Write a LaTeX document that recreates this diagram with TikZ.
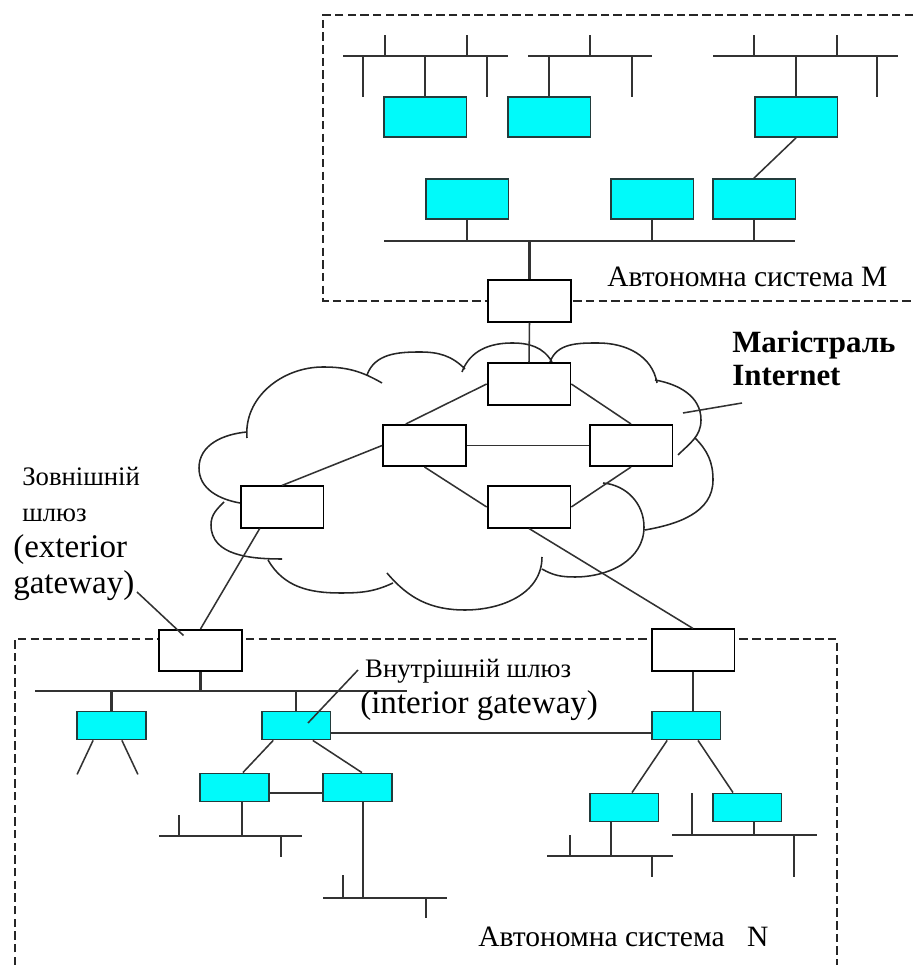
\documentclass[tikz,border=0pt]{standalone}
\usepackage{fontspec}
\setmainfont{Liberation Serif}
\definecolor{hostcyan}{RGB}{0,250,250}
\definecolor{hostedge}{RGB}{35,60,60}
\definecolor{wire}{RGB}{50,50,50}
\newcommand{\cyrsize}{\fontsize{19}{25.6}\selectfont}
\newcommand{\latsize}{\fontsize{23.5}{25.6}\selectfont}

\begin{document}
\begin{tikzpicture}[x=0.025cm, y=0.025cm,
  host/.style={draw=hostedge, fill=hostcyan, line width=1.3pt, minimum width=2.07cm, minimum height=1cm, inner sep=0pt},
  hostsm/.style={host, minimum width=1.72cm, minimum height=0.7cm},
  router/.style={draw=black, fill=white, line width=1.3pt, minimum width=2.07cm, minimum height=1.03cm, inner sep=0pt},
  bus/.style={draw=wire, line width=1.5pt},
  link/.style={draw=wire, line width=1.1pt},
  cloudedge/.style={draw=black!85, line width=1.1pt},
  asbox/.style={draw=black!85, line width=1pt, dash pattern=on 6pt off 3pt},
  lbl/.style={inner sep=0pt, font=\fontsize{21}{25}\selectfont}]

  \useasboundingbox (0,0) rectangle (913,965);

  \draw[asbox] (913,950) -- (323,950) -- (323,664) -- (913,664);
  \draw[asbox] (15,0) -- (15,326) -- (837,326) -- (837,0);

  \draw[cloudedge]
    (247,527) to[out=95,in=180] (323,598) to[out=0,in=150] (382,582)
    (367,590) to[out=70,in=180] (420,613) to[out=0,in=135] (465,596)
    (462,593) to[out=70,in=180] (512,622) to[out=0,in=120] (552,603)
    (550,603) to[out=70,in=180] (598,622) to[out=0,in=100] (657,582)
    (655,585) to[out=-10,in=90] (701,545) to[out=-90,in=45] (678,510)
    (695,527) to[out=-45,in=90] (713,485) to[out=-90,in=10] (645,435)
    (603,482) to[out=-5,in=90] (644,438) to[out=-90,in=0] (575,388) to[out=180,in=-30] (542,396)
    (542,408) to[out=-90,in=0] (465,355) to[out=180,in=-50] (387,392)
    (268,405) to[out=-60,in=180] (340,372) to[out=0,in=-155] (393,382)
    (282,406) to[out=180,in=-90] (211,440) to[out=90,in=-135] (224,463)
    (240,462) to[out=170,in=-90] (199,497) to[out=90,in=185] (247,533);

  \node[host] (h1) at (425,848) {};
  \node[host] (h2) at (549,848) {};
  \node[host] (h3) at (796,848) {};
  \node[host] (h4) at (467,766) {};
  \node[host] (h5) at (652,766) {};
  \node[host] (h6) at (754,766) {};
  \node[router] (gM) at (529.5,664) {};

  \node[router] (r1) at (529,581) {};
  \node[router] (r2) at (424.5,519.5) {};
  \node[router] (r3) at (631,519.5) {};
  \node[router] (r4) at (529,458) {};
  \node[router] (r5) at (282,458) {};

  \node[router] (gN1) at (200.5,314.5) {};
  \node[router] (gN2) at (693,315) {};
  \node[hostsm] (i0) at (111.5,239.5) {};
  \node[hostsm] (i1) at (296,239.5) {};
  \node[hostsm] (i3) at (686,239.5) {};
  \node[hostsm] (i4) at (234.5,177.5) {};
  \node[hostsm] (i5) at (357.5,177.5) {};
  \node[hostsm] (i6) at (624,157.5) {};
  \node[hostsm] (i7) at (747,157.5) {};

  \coordinate (busA) at (0,909);
  \coordinate (busM) at (0,724);
  \coordinate (busN) at (0,274);
  \coordinate (busP) at (0,129);
  \coordinate (busQ) at (0,67);
  \coordinate (busR) at (0,109);
  \coordinate (busS) at (0,130);

  \draw[bus] (343,909) -- (508,909);
  \draw[bus] (528,909) -- (652,909);
  \draw[bus] (713,909) -- (898,909);
  \foreach \x in {385,467,590,754,837}
    \draw[bus] (\x,909) -- ++(0,21);
  \foreach \x in {363,487,632,877}
    \draw[bus] (\x,909) -- ++(0,-41);
  \foreach \n in {h1,h2,h3}
    \draw[bus] (\n.north) -- (\n.north |- busA);

  \draw[bus] (384,724) -- (795,724);
  \foreach \n in {h4,h5,h6}
    \draw[bus] (\n.south) -- (\n.south |- busM);
  \draw[link] (h3.south) -- (h6.north);
  \draw[bus] (gM.north) -- (gM.north |- busM);

  \draw[link] (gM.south) -- (r1.north);
  \draw[link] (r1.west) -- (r2.131);
  \draw[link] (r1.east) -- (r3.north);
  \draw[link] (r2.east) -- (r3.west);
  \draw[link] (r2.south) -- (r4.west);
  \draw[link] (r3.south) -- (r4.east);
  \draw[link] (r2.west) -- (r5.north);
  \draw[link] (r5.224) -- (gN1.north);
  \draw[link] (r4.south) -- (gN2.north);

  \draw[bus] (35,274) -- (407,274);
  \draw[bus] (gN1.south) -- (gN1.south |- busN);
  \draw[bus] (i0.north) -- (i0.north |- busN);
  \draw[bus] (i1.north) -- (i1.north |- busN);
  \draw[link] ([xshift=-0.46cm]i0.south) -- ++(-16,-34);
  \draw[link] ([xshift=0.26cm]i0.south) -- ++(16,-34);
  \draw[link] ([yshift=-0.19cm]i1.east) -- ([yshift=-0.19cm]i3.west);
  \draw[bus] (gN2.south) -- (gN2.south |- i3.north);

  \draw[link] ([xshift=-0.57cm]i1.south) -- ([xshift=0.21cm]i4.north);
  \draw[link] ([xshift=0.42cm]i1.south) -- ([xshift=0.11cm]i5.north);
  \draw[link] ([yshift=-0.14cm]i4.east) -- ([yshift=-0.14cm]i5.west);
  \draw[link] ([xshift=-0.47cm]i3.south) -- ([xshift=0.2cm]i6.north);
  \draw[link] ([xshift=0.3cm]i3.south) -- ([xshift=-0.35cm]i7.north);

  \draw[bus] (159,129) -- (302,129);
  \draw[bus] ([xshift=0.19cm]i4.south) -- ([xshift=0.19cm]i4.south |- busP);
  \draw[bus] (179,129) -- ++(0,21);
  \draw[bus] (281,129) -- ++(0,-21);

  \draw[bus] (323,67) -- (447,67);
  \draw[bus] ([xshift=0.14cm]i5.south) -- ([xshift=0.14cm]i5.south |- busQ);
  \draw[bus] (343,67) -- ++(0,23);
  \draw[bus] (426,67) -- ++(0,-20);

  \draw[bus] (547,109) -- (673,109);
  \draw[bus] ([xshift=-0.32cm]i6.south) -- ([xshift=-0.32cm]i6.south |- busR);
  \draw[bus] (570,109) -- ++(0,21);
  \draw[bus] (652,109) -- ++(0,-21);

  \draw[bus] (672,130) -- (817,130);
  \draw[bus] ([xshift=0.17cm]i7.south) -- ([xshift=0.17cm]i7.south |- busS);
  \draw[bus] (692,130) -- ++(0,42);
  \draw[bus] (794,130) -- ++(0,-42);

  \node[lbl, anchor=base west] (lblM) at (607,678) {Автономна система М};
  \node[lbl, anchor=base west] (lblN) at (478,18) {Автономна система\hspace{16pt}N};
  \node[inner sep=0pt, anchor=north west, align=left, font=\bfseries\fontsize{22}{23.5}\selectfont] (lblNet) at (732,634) {Магістраль\\Internet};
  \node[inner sep=0pt, anchor=north west, align=left, font=\cyrsize] (lblExt) at (13,498)
    {\hspace*{6.4pt}Зовнішній\\\hspace*{6.4pt}шлюз\\{\latsize (exterior}\\{\latsize gateway)}};
  \node[inner sep=0pt, anchor=north west, align=left, font=\cyrsize] (lblInt) at (360,306)
    {\hspace*{3.5pt}Внутрішній шлюз\\{\latsize (interior gateway)}};

  \coordinate (netA) at (683,552);
  \coordinate (netB) at (742,562);
  \coordinate (extA) at (137,373);
  \coordinate (intA) at (358,295);
  \draw[link] (netA) -- (netB);
  \draw[link] (extA) -- ([shift={(-17,15)}]gN1.center);
  \draw[link] (intA) -- ([shift={(12,2.5)}]i1.center);
\end{tikzpicture}
\end{document}
